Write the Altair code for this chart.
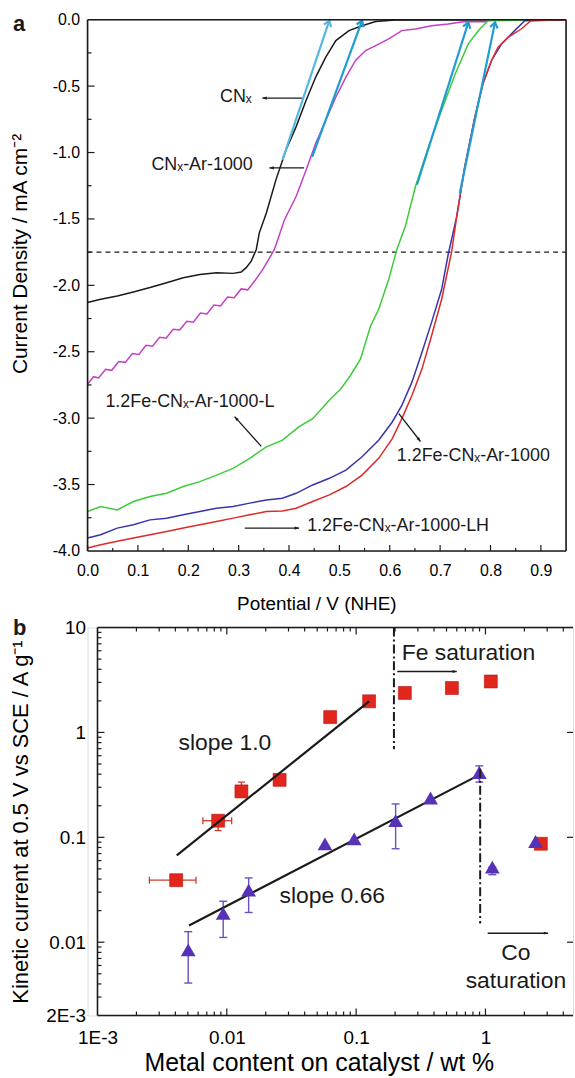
import math
import altair as alt
import pandas as pd

FONT = "Liberation Sans"
INK = "#1a1a1a"

# ================= panel a: polarisation curves =================
# potential (V vs NHE) and current density (mA cm^-2) for each catalyst
cnx_v = [0.000, 0.026, 0.059, 0.091, 0.124, 0.157, 0.190, 0.223, 0.256, 0.289, 0.305, 0.315,
         0.325, 0.335, 0.341, 0.355, 0.374, 0.394, 0.414, 0.434, 0.453, 0.473, 0.493, 0.519,
         0.545, 0.572, 0.611, 0.950]
cnx_j = [-2.130, -2.105, -2.080, -2.050, -2.017, -1.980, -1.943, -1.918, -1.905, -1.910, -1.900,
         -1.867, -1.818, -1.730, -1.605, -1.455, -1.206, -0.981, -0.807, -0.607, -0.432, -0.282,
         -0.157, -0.082, -0.045, -0.013, -0.002, 0.000]

cnx_ar_v = [0.000, 0.012, 0.022, 0.036, 0.048, 0.062, 0.075, 0.089, 0.102, 0.116, 0.129, 0.143,
            0.156, 0.170, 0.183, 0.197, 0.210, 0.224, 0.237, 0.251, 0.264, 0.278, 0.291, 0.305,
            0.318, 0.332, 0.348, 0.371, 0.391, 0.414, 0.434, 0.453, 0.473, 0.493, 0.513, 0.532,
            0.552, 0.572, 0.598, 0.624, 0.651, 0.683, 0.716, 0.749, 0.789, 0.801, 0.950]
cnx_ar_j = [-2.745, -2.688, -2.698, -2.632, -2.640, -2.573, -2.580, -2.513, -2.520, -2.452,
            -2.459, -2.391, -2.398, -2.331, -2.337, -2.270, -2.277, -2.209, -2.216, -2.148,
            -2.155, -2.088, -2.094, -2.027, -2.034, -1.966, -1.880, -1.730, -1.506, -1.331,
            -1.131, -0.931, -0.757, -0.582, -0.432, -0.307, -0.232, -0.195, -0.145, -0.082,
            -0.070, -0.045, -0.032, -0.013, -0.015, 0.000, 0.000]

fe_l_v = [0.000, 0.026, 0.059, 0.091, 0.124, 0.157, 0.190, 0.223, 0.256, 0.289, 0.322, 0.355,
          0.387, 0.420, 0.447, 0.480, 0.503, 0.522, 0.542, 0.562, 0.578, 0.598, 0.614, 0.631,
          0.651, 0.677, 0.703, 0.730, 0.756, 0.776, 0.795, 0.950]
fe_l_j = [-3.703, -3.665, -3.691, -3.628, -3.590, -3.566, -3.515, -3.478, -3.429, -3.378, -3.303,
          -3.216, -3.166, -3.064, -3.004, -2.866, -2.779, -2.679, -2.554, -2.305, -2.180, -1.955,
          -1.730, -1.556, -1.256, -0.957, -0.682, -0.407, -0.182, -0.082, -0.007, 0.000]

fe_v = [0.000, 0.026, 0.059, 0.091, 0.124, 0.157, 0.190, 0.223, 0.256, 0.289, 0.322, 0.355,
        0.387, 0.414, 0.447, 0.480, 0.513, 0.545, 0.578, 0.605, 0.624, 0.644, 0.664, 0.683,
        0.703, 0.716, 0.733, 0.749, 0.769, 0.785, 0.802, 0.822, 0.848, 0.868, 0.950]
fe_j = [-3.903, -3.878, -3.828, -3.803, -3.766, -3.753, -3.728, -3.703, -3.678, -3.665, -3.640,
        -3.616, -3.603, -3.566, -3.503, -3.453, -3.391, -3.291, -3.166, -3.029, -2.904, -2.729,
        -2.504, -2.279, -2.030, -1.768, -1.481, -1.106, -0.732, -0.482, -0.307, -0.182, -0.082,
        -0.007, 0.000]

fe_lh_v = [0.000, 0.026, 0.059, 0.091, 0.124, 0.157, 0.190, 0.223, 0.256, 0.289, 0.322, 0.355,
           0.387, 0.414, 0.447, 0.480, 0.513, 0.545, 0.578, 0.605, 0.624, 0.644, 0.664, 0.683,
           0.703, 0.723, 0.733, 0.749, 0.769, 0.785, 0.802, 0.815, 0.835, 0.861, 0.880, 0.950]
fe_lh_j = [-3.978, -3.953, -3.927, -3.903, -3.878, -3.853, -3.828, -3.803, -3.778, -3.753,
           -3.728, -3.703, -3.700, -3.678, -3.628, -3.578, -3.515, -3.429, -3.303, -3.154,
           -3.004, -2.829, -2.629, -2.380, -2.105, -1.745, -1.481, -1.106, -0.732, -0.482,
           -0.307, -0.207, -0.133, -0.070, -0.007, 0.000]

series_names = ["CNx", "CNx-Ar-1000", "1.2Fe-CNx-Ar-1000-L", "1.2Fe-CNx-Ar-1000",
                "1.2Fe-CNx-Ar-1000-LH"]
series_colors = ["#1a1a1a", "#c43fc6", "#3ecb3a", "#3834ad", "#de2a2a"]
series_data = [(cnx_v, cnx_j), (cnx_ar_v, cnx_ar_j), (fe_l_v, fe_l_j), (fe_v, fe_j),
               (fe_lh_v, fe_lh_j)]

# onset tangents (tail -> tip), drawn as arrows
tangent_names = ["t1", "t2", "t3", "t4"]
tangent_tail = [(0.387, -1.056), (0.446, -1.032), (0.654, -1.243), (0.739, -1.306)]
tangent_tip = [(0.480, -0.007), (0.545, -0.007), (0.756, -0.020), (0.809, -0.020)]
tangent_colors = ["#58b7dc", "#1f9dd2", "#1f9dd2", "#1f9dd2"]

j_reference = -1.75

# curve labels and their pointers
label_text = ["CNₓ", "CNₓ-Ar-1000", "1.2Fe-CNₓ-Ar-1000-L", "1.2Fe-CNₓ-Ar-1000",
              "1.2Fe-CNₓ-Ar-1000-LH"]
label_v = [0.326, 0.328, 0.0355, 0.614, 0.436]
label_j = [-0.584, -1.094, -2.876, -3.288, -3.813]
label_align = ["right", "right", "left", "left", "left"]
pointer_tail = [(0.426, -0.590), (0.430, -1.116), (0.345, -3.213), (0.618, -2.966),
                (0.312, -3.828)]
pointer_tip = [(0.347, -0.590), (0.361, -1.116), (0.292, -2.989), (0.661, -3.176),
               (0.420, -3.828)]

xa_major = [0.0, 0.1, 0.2, 0.3, 0.4, 0.5, 0.6, 0.7, 0.8, 0.9]
xa_minor = [0.05, 0.15, 0.25, 0.35, 0.45, 0.55, 0.65, 0.75, 0.85]
ya_major = [0.0, -0.5, -1.0, -1.5, -2.0, -2.5, -3.0, -3.5, -4.0]
ya_minor = [-0.25, -0.75, -1.25, -1.75, -2.25, -2.75, -3.25, -3.75]

# ================= panel b: kinetic current vs metal content =================
fe_x = [0.00406, 0.00857, 0.01297, 0.0256, 0.063, 0.126, 0.238, 0.55, 1.10, 2.68]
fe_y = [0.039, 0.144, 0.274, 0.353, 1.40, 1.98, 2.38, 2.65, 3.06, 0.0868]
co_x = [0.00503, 0.00938, 0.01475, 0.0574, 0.0966, 0.202, 0.376, 0.896, 1.13, 2.44]
co_y = [0.00845, 0.0188, 0.0313, 0.0867, 0.0968, 0.144, 0.237, 0.415, 0.0521, 0.0912]

fe_xerr_y = [0.039, 0.144]
fe_xerr_lo = [0.00252, 0.00653]
fe_xerr_hi = [0.00578, 0.0109]
fe_yerr_x = [0.00857, 0.01297]
fe_yerr_lo = [0.116, 0.242]
fe_yerr_hi = [0.161, 0.336]
co_yerr_x = [0.00503, 0.00938, 0.01475, 0.202, 0.896, 1.13]
co_yerr_lo = [0.00408, 0.0111, 0.0192, 0.0778, 0.336, 0.044]
co_yerr_hi = [0.0126, 0.0246, 0.041, 0.208, 0.48, 0.0521]

fe_fit_x = [0.0041, 0.126]
fe_fit_y = [0.0672, 1.98]
co_fit_x = [0.0051, 0.896]
co_fit_y = [0.0144, 0.394]

fe_sat_x, fe_sat_top, fe_sat_bottom = 0.196, 10.0, 0.69
co_sat_x, co_sat_top, co_sat_bottom = 0.91, 0.45, 0.0151

xb_major = [0.001, 0.01, 0.1, 1.0]
xb_minor = [0.002, 0.003, 0.004, 0.005, 0.006, 0.007, 0.008, 0.009,
            0.02, 0.03, 0.04, 0.05, 0.06, 0.07, 0.08, 0.09,
            0.2, 0.3, 0.4, 0.5, 0.6, 0.7, 0.8, 0.9, 2.0, 3.0, 4.0]
yb_major = [0.01, 0.1, 1.0]
yb_minor = [0.003, 0.004, 0.005, 0.006, 0.007, 0.008, 0.009,
            0.02, 0.03, 0.04, 0.05, 0.06, 0.07, 0.08, 0.09,
            0.2, 0.3, 0.4, 0.5, 0.6, 0.7, 0.8, 0.9,
            2.0, 3.0, 4.0, 5.0, 6.0, 7.0, 8.0, 9.0]

# ---------------- geometry / styles ----------------
WA, HA = 481, 534
WB, HB = 488, 390
XB0 = 10                      # panel b frame starts this far right of the panel a frame
ARROW_HEAD = "M0,0 L-2,-0.7 L-2,0.7 Z"
OPEN_HEAD = "M-1.6,-1.1 L0,0 L-1.6,1.1"

xa = alt.Scale(domain=[0.0, 0.95], nice=False, zero=False)
ya = alt.Scale(domain=[-4.0, 0.0], nice=False, zero=False)
xb = alt.Scale(type="log", domain=[0.001, 4.753], range=[XB0, WB], nice=False)
yb = alt.Scale(type="log", domain=[0.002, 10.0], nice=False)


def to_px_a(v, j):
    return v / 0.95 * WA, -j / 4.0 * HA


def heading(tail, tip):
    x0, y0 = to_px_a(*tail)
    x1, y1 = to_px_a(*tip)
    return math.degrees(math.atan2(y1 - y0, x1 - x0)) % 360


minus_fix = "replace(format(datum.value, '.1f'), '\u2212', '-')"

axis_xa = alt.Axis(values=xa_major, labelExpr=minus_fix, ticks=False, domain=False, grid=False,
                   labelFontSize=16, labelPadding=12, labelFlush=False, labelOverlap=False,
                   title="Potential / V (NHE)", titleFontSize=19, titleFontWeight="normal",
                   titleX=230, titleY=53, titleBaseline="middle")
axis_ya = alt.Axis(values=ya_major, labelExpr=minus_fix, ticks=False, domain=False, grid=False,
                   labelFontSize=16, labelPadding=8, labelFlush=False, labelOverlap=False,
                   title="Current Density / mA cm⁻²", titleFontSize=21, titleFontWeight="normal",
                   titleX=-67, titleY=235, titleAngle=-90, titleBaseline="middle")


def X_a(field):
    return alt.X(field, type="quantitative", scale=xa, axis=axis_xa)


def Y_a(field):
    return alt.Y(field, type="quantitative", scale=ya, axis=axis_ya)


layers_a = []
ref_df = pd.DataFrame({"v": [0.0], "v2": [0.95], "j": [j_reference]})
layers_a.append(alt.Chart(ref_df).mark_rule(color=INK, strokeWidth=1.2, strokeDash=[5, 4])
                .encode(x=X_a("v"), x2="v2", y=Y_a("j")))

for name, color, (vs, js) in zip(series_names, series_colors, series_data):
    df = pd.DataFrame({"v": vs, "j": js, "i": list(range(len(vs)))})
    layers_a.append(
        alt.Chart(df).mark_line(color=color, strokeWidth=1.5).encode(
            x=X_a("v"), y=Y_a("j"), order="i:Q"))

tan_rows = []
for name, tail, tip in zip(tangent_names, tangent_tail, tangent_tip):
    tan_rows.append({"arrow": name, "v": tail[0], "j": tail[1], "i": 0})
    tan_rows.append({"arrow": name, "v": tip[0], "j": tip[1], "i": 1})
tan_df = pd.DataFrame(tan_rows)
tan_color = alt.Color("arrow:N", scale=alt.Scale(domain=tangent_names, range=tangent_colors),
                      legend=None)
layers_a.append(alt.Chart(tan_df).mark_line(strokeWidth=2.2).encode(
    x=X_a("v"), y=Y_a("j"), detail="arrow:N", order="i:Q", color=tan_color))
tan_head_df = pd.DataFrame({
    "arrow": tangent_names,
    "v": [p[0] for p in tangent_tip],
    "j": [p[1] for p in tangent_tip],
    "angle": [heading(a, b) for a, b in zip(tangent_tail, tangent_tip)],
})
layers_a.append(alt.Chart(tan_head_df).mark_point(shape=OPEN_HEAD, filled=False, size=48,
                                                  strokeWidth=2.2, opacity=1).encode(
    x=X_a("v"), y=Y_a("j"), color=tan_color, angle=alt.Angle("angle:Q", scale=None)))

ptr_df = pd.DataFrame({
    "v": [p[0] for p in pointer_tail], "j": [p[1] for p in pointer_tail],
    "v2": [p[0] for p in pointer_tip], "j2": [p[1] for p in pointer_tip],
    "angle": [heading(a, b) for a, b in zip(pointer_tail, pointer_tip)],
})
layers_a.append(alt.Chart(ptr_df).mark_rule(color=INK, strokeWidth=1.3).encode(
    x=X_a("v"), y=Y_a("j"), x2="v2", y2="j2"))
layers_a.append(alt.Chart(ptr_df).mark_point(shape=ARROW_HEAD, filled=True, size=20,
                                             color=INK, opacity=1).encode(
    x=X_a("v2"), y=Y_a("j2"), angle=alt.Angle("angle:Q", scale=None)))

lab_df = pd.DataFrame({"text": label_text, "v": label_v, "j": label_j, "align": label_align})
for al in ["left", "right"]:
    layers_a.append(alt.Chart(lab_df[lab_df["align"] == al]).mark_text(
        align=al, baseline="middle", fontSize=18, font=FONT, color=INK).encode(
        x=X_a("v"), y=Y_a("j"), text="text:N"))

# inward ticks and frame
for vals, length in [(xa_major, 6), (xa_minor, 3)]:
    layers_a.append(alt.Chart(pd.DataFrame({"t": vals})).mark_tick(
        orient="vertical", size=length, thickness=1.2, color=INK, opacity=1).encode(
        x=X_a("t"), y=alt.value(HA - length / 2)))
for vals, length in [(ya_major[1:-1], 7), (ya_minor, 4)]:
    layers_a.append(alt.Chart(pd.DataFrame({"t": vals})).mark_tick(
        orient="horizontal", size=length, thickness=1.2, color=INK, opacity=1).encode(
        y=Y_a("t"), x=alt.value(length / 2)))

frame = alt.Chart(pd.DataFrame({"k": [0]}))
layers_a += [
    frame.mark_rule(color=INK, strokeWidth=1.6).encode(x=alt.value(0), x2=alt.value(WA), y=alt.value(0)),
    frame.mark_rule(color=INK, strokeWidth=1.6).encode(x=alt.value(0), x2=alt.value(WA), y=alt.value(HA)),
    frame.mark_rule(color=INK, strokeWidth=1.6).encode(x=alt.value(0), y=alt.value(0), y2=alt.value(HA)),
    frame.mark_rule(color=INK, strokeWidth=1.6).encode(x=alt.value(WA), y=alt.value(0), y2=alt.value(HA)),
    frame.mark_text(text="a", fontSize=22, fontWeight="bold", font=FONT, align="left",
                    baseline="alphabetic", color=INK).encode(x=alt.value(-75), y=alt.value(11)),
]

panel_a = alt.layer(*layers_a).properties(width=WA, height=HA)

# ---------------- panel b ----------------
axis_xb = alt.Axis(values=xb_major,
                   labelExpr="datum.value < 0.005 ? '1E-3' : format(datum.value, '~g')",
                   ticks=False, domain=False, grid=False, labelFontSize=19, labelPadding=13,
                   labelFlush=False, labelOverlap=False,
                   title="Metal content on catalyst / wt %", titleFontSize=25,
                   titleFontWeight="normal", titleX=232.5, titleY=47, titleBaseline="middle")
axis_yb = alt.Axis(values=[0.002, 0.01, 0.1, 1.0, 10.0],
                   labelExpr="datum.value < 0.005 ? '2E-3' : format(datum.value, '~g')",
                   ticks=False, domain=False, grid=False, labelFontSize=19, labelPadding=12,
                   labelFlush=False, labelOverlap=False, offset=-XB0,
                   title="Kinetic current at 0.5 V vs SCE / A g⁻¹", titleFontSize=22,
                   titleFontWeight="normal", titleX=-77, titleY=195, titleAngle=-90,
                   titleBaseline="middle")


def X_b(field):
    return alt.X(field, type="quantitative", scale=xb, axis=axis_xb)


def Y_b(field):
    return alt.Y(field, type="quantitative", scale=yb, axis=axis_yb)


RED, RED_BAR = "#e2261d", "#cf3b2b"
PURPLE, PURPLE_BAR = "#5633b6", "#6b4fc0"

fe_df = pd.DataFrame({"x": fe_x, "y": fe_y})
co_df = pd.DataFrame({"x": co_x, "y": co_y})

layers_b = []
# error bars
fe_xerr = pd.DataFrame({"y": fe_xerr_y, "lo": fe_xerr_lo, "hi": fe_xerr_hi})
layers_b.append(alt.Chart(fe_xerr).mark_rule(color=RED_BAR, strokeWidth=1.3).encode(
    x=X_b("lo"), x2="hi", y=Y_b("y")))
fe_xcap = pd.DataFrame({"x": fe_xerr_lo + fe_xerr_hi, "y": fe_xerr_y + fe_xerr_y})
layers_b.append(alt.Chart(fe_xcap).mark_tick(orient="vertical", size=7, thickness=1.3,
                                             color=RED_BAR, opacity=1).encode(
    x=X_b("x"), y=Y_b("y")))
fe_yerr = pd.DataFrame({"x": fe_yerr_x, "lo": fe_yerr_lo, "hi": fe_yerr_hi})
layers_b.append(alt.Chart(fe_yerr).mark_rule(color=RED_BAR, strokeWidth=1.3).encode(
    x=X_b("x"), y=Y_b("lo"), y2="hi"))
fe_ycap = pd.DataFrame({"x": fe_yerr_x + fe_yerr_x, "y": fe_yerr_lo + fe_yerr_hi})
layers_b.append(alt.Chart(fe_ycap).mark_tick(orient="horizontal", size=7, thickness=1.3,
                                             color=RED_BAR, opacity=1).encode(
    x=X_b("x"), y=Y_b("y")))
co_yerr = pd.DataFrame({"x": co_yerr_x, "lo": co_yerr_lo, "hi": co_yerr_hi})
layers_b.append(alt.Chart(co_yerr).mark_rule(color=PURPLE_BAR, strokeWidth=1.4).encode(
    x=X_b("x"), y=Y_b("lo"), y2="hi"))
co_ycap = pd.DataFrame({"x": co_yerr_x + co_yerr_x, "y": co_yerr_lo + co_yerr_hi})
layers_b.append(alt.Chart(co_ycap).mark_tick(orient="horizontal", size=8, thickness=1.4,
                                             color=PURPLE_BAR, opacity=1).encode(
    x=X_b("x"), y=Y_b("y")))

# Fe points, fits, Co points
layers_b.append(alt.Chart(fe_df).mark_point(shape="square", filled=True, size=170, color=RED,
                                            stroke="#b3140f", strokeWidth=0.6, opacity=1).encode(
    x=X_b("x"), y=Y_b("y")))
fit_df = pd.DataFrame({"x": fe_fit_x + co_fit_x, "y": fe_fit_y + co_fit_y,
                       "fit": ["fe", "fe", "co", "co"]})
layers_b.append(alt.Chart(fit_df).mark_line(color=INK, strokeWidth=2.2).encode(
    x=X_b("x"), y=Y_b("y"), detail="fit:N"))
layers_b.append(alt.Chart(co_df).mark_point(shape="triangle-up", filled=True, size=220,
                                            color=PURPLE, opacity=1).encode(
    x=X_b("x"), y=Y_b("y")))

# saturation markers
sat_df = pd.DataFrame({"x": [fe_sat_x, co_sat_x], "top": [fe_sat_top, co_sat_top],
                       "bottom": [fe_sat_bottom, co_sat_bottom]})
layers_b.append(alt.Chart(sat_df).mark_rule(color=INK, strokeWidth=2, strokeDash=[9, 3, 2, 3]).encode(
    x=X_b("x"), y=Y_b("top"), y2="bottom"))
sat_arrow = pd.DataFrame({"x": [0.208, 1.04], "x2": [0.60, 3.05], "y": [3.81, 0.0122]})
layers_b.append(alt.Chart(sat_arrow).mark_rule(color=INK, strokeWidth=1.5).encode(
    x=X_b("x"), x2="x2", y=Y_b("y")))
layers_b.append(alt.Chart(sat_arrow).mark_point(shape=ARROW_HEAD, filled=True, size=18,
                                                color=INK, opacity=1).encode(
    x=X_b("x2"), y=Y_b("y")))

note_df = pd.DataFrame({
    "text": ["slope 1.0", "slope 0.66", "Co", "saturation"],
    "x": [0.00966, 0.0654, 1.72, 1.72],
    "y": [0.787, 0.0273, 0.00787, 0.00424],
})
layers_b.append(alt.Chart(note_df).mark_text(align="center", baseline="middle", fontSize=23,
                                             font=FONT, color=INK).encode(
    x=X_b("x"), y=Y_b("y"), text="text:N"))
fe_note = pd.DataFrame({"text": ["Fe saturation"], "x": [0.225], "y": [5.73]})
layers_b.append(alt.Chart(fe_note).mark_text(align="left", baseline="middle", fontSize=23,
                                             font=FONT, color=INK).encode(
    x=X_b("x"), y=Y_b("y"), text="text:N"))

# inward log ticks and frame
for vals, length in [(xb_major[1:], 7), (xb_minor, 4)]:
    tdf = pd.DataFrame({"t": vals})
    layers_b.append(alt.Chart(tdf).mark_tick(orient="vertical", size=length, thickness=1.2,
                                             color=INK, opacity=1).encode(
        x=X_b("t"), y=alt.value(HB - length / 2)))
    layers_b.append(alt.Chart(tdf).mark_tick(orient="vertical", size=length, thickness=1.2,
                                             color=INK, opacity=1).encode(
        x=X_b("t"), y=alt.value(length / 2)))
for vals, length in [(yb_major, 7), (yb_minor, 4)]:
    layers_b.append(alt.Chart(pd.DataFrame({"t": vals})).mark_tick(
        orient="horizontal", size=length, thickness=1.2, color=INK, opacity=1).encode(
        y=Y_b("t"), x=alt.value(XB0 + length / 2)))
layers_b.append(alt.Chart(pd.DataFrame({"t": yb_major})).mark_tick(
    orient="horizontal", size=6, thickness=1.2, color=INK, opacity=1).encode(
    y=Y_b("t"), x=alt.value(WB - 3)))

layers_b += [
    frame.mark_rule(color=INK, strokeWidth=1.6).encode(x=alt.value(XB0), x2=alt.value(WB), y=alt.value(0)),
    frame.mark_rule(color=INK, strokeWidth=1.6).encode(x=alt.value(XB0), x2=alt.value(WB), y=alt.value(HB)),
    frame.mark_rule(color=INK, strokeWidth=1.6).encode(x=alt.value(XB0), y=alt.value(0), y2=alt.value(HB)),
    frame.mark_text(text="b", fontSize=22, fontWeight="bold", font=FONT, align="left",
                    baseline="alphabetic", color=INK).encode(x=alt.value(-75), y=alt.value(7.5)),
]

panel_b = alt.layer(*layers_b).properties(width=WB, height=HB)

chart = (
    alt.vconcat(panel_a, panel_b, spacing=2)
    .properties(padding={"left": 9, "top": 8, "right": 0, "bottom": 0})
    .configure_view(stroke=None)
    .configure_axis(labelFont=FONT, titleFont=FONT, labelColor=INK, titleColor=INK,
                    titleFontWeight="normal")
    .configure(font=FONT, background="white")
)

chart.save("out.html", embed_options={"renderer": "svg", "actions": False})
